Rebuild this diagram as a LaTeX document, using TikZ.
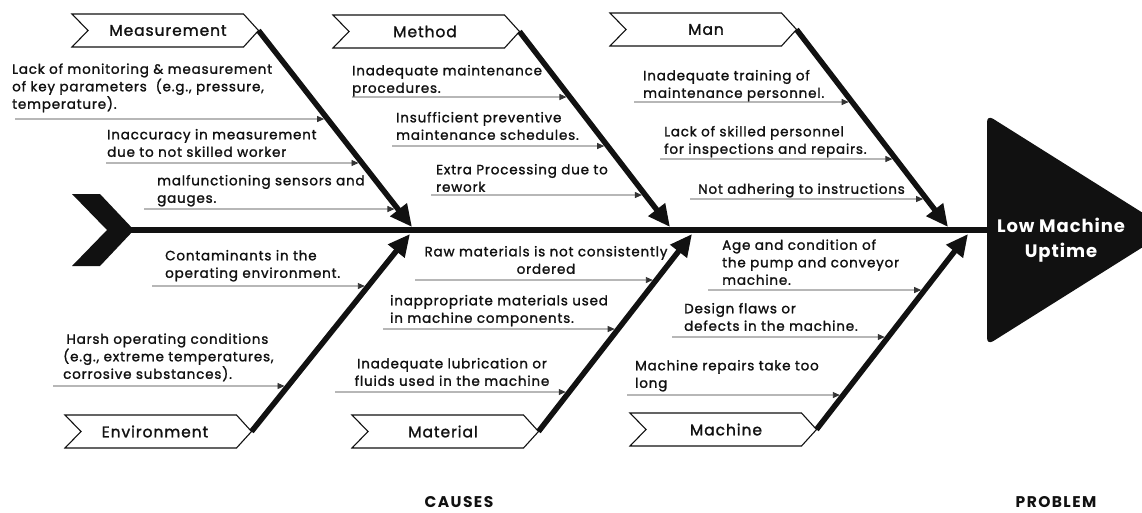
\documentclass[tikz,border=0pt]{standalone}
\usepackage{fontspec}
\setmainfont{Poppins}
\newfontfamily\medfont{Poppins}[LetterSpace=6, FakeBold=1.4]
\newfontfamily\bldfont{Poppins Bold}[LetterSpace=5]
\newfontfamily\ftfont{Poppins Bold}[LetterSpace=9]
\usetikzlibrary{arrows.meta,calc}
\definecolor{ink}{HTML}{111111}
\definecolor{lnc}{HTML}{333333}
\newcommand\ctfont{\medfont\fontsize{13.5}{17.5}\selectfont}
\newcommand\bnfont{\medfont\fontsize{15.5}{18}\selectfont}
\tikzset{
 banner/.style={draw=ink, line width=1.1pt, fill=white, line join=miter},
 bone/.style={draw=ink, line width=5.5pt, -{Triangle[length=22pt,width=20pt]}},
 cause/.style={draw=lnc, line width=0.9pt, -{Triangle[length=7pt,width=6pt]}, shorten >=3.5pt},
 ctl/.style={anchor=south west, inner sep=0pt, align=left, font=\ctfont, text=ink},
 ctc/.style={anchor=south, inner sep=0pt, align=center, font=\ctfont, text=ink},
 blabel/.style={inner sep=0pt, font=\bnfont, text=ink},
 foot/.style={inner sep=0pt, font=\ftfont\fontsize{15.5}{16}\selectfont, text=ink},
}
\newcommand\fbanner[5]{%
 \draw[banner] (#2,#3) -- ++(171.5,0) -- ++(15,16.5) -- ++(-15,16.5) -- ++(-171.5,0) -- ++(16,-16.5) -- cycle;
 \node[blabel] (#1L) at (#4,#3+16.5) {#5};
}
\newcommand\causearrow[4]{%
 \coordinate (#1) at (#2,#3);
 \coordinate (#1h) at (#2+50,#3);
 \draw[cause] (#1) -- (intersection of #1--#1h and #4T--#4E);
}
\begin{document}
\begin{tikzpicture}[x=1pt,y=-1pt]
\fill[white] (0,0) rectangle (1142,512);
\useasboundingbox (0,0) rectangle (1142,512);

% bone coordinates
\coordinate (measT) at (258.5,30.5);  \coordinate (measE) at (412,227);
\coordinate (methT) at (519.5,31.5);  \coordinate (methE) at (670,227);
\coordinate (manT)  at (796.5,29.5);  \coordinate (manE)  at (948,227);
\coordinate (envT)  at (251.5,431.5); \coordinate (envE)  at (410,234);
\coordinate (matT)  at (538.5,431.5); \coordinate (matE)  at (692,234);
\coordinate (macT)  at (816.5,429.5); \coordinate (macE)  at (968,234);

% cause arrows
\causearrow{c1}{15}{119}{meas}
\causearrow{c2}{106}{163}{meas}
\causearrow{c3}{144}{209}{meas}
\causearrow{c4}{352}{97}{meth}
\causearrow{c5}{392}{146}{meth}
\causearrow{c6}{431}{195}{meth}
\causearrow{c7}{634}{102}{man}
\causearrow{c8}{660}{159}{man}
\causearrow{c9}{690}{199}{man}
\causearrow{c10}{152}{286}{env}
\causearrow{c11}{53}{386}{env}
\causearrow{c12}{415}{280}{mat}
\causearrow{c13}{383}{329}{mat}
\causearrow{c14}{335}{392}{mat}
\causearrow{c15}{708}{290}{mac}
\causearrow{c16}{672}{337}{mac}
\causearrow{c17}{627}{395}{mac}

% bones
\draw[bone] (measT) -- (measE);
\draw[bone] (methT) -- (methE);
\draw[bone] (manT) -- (manE);
\draw[bone] (envT) -- (envE);
\draw[bone] (matT) -- (matE);
\draw[bone] (macT) -- (macE);

% spine, tail, head
\coordinate (spS) at (125,230);
\coordinate (spE) at (995,230);
\draw[ink, line width=6pt] (spS) -- (spE);
\fill[ink] (72,194) -- (100,194) -- (134,230) -- (100,266) -- (72,266) -- (107,230) -- cycle;
\fill[ink, rounded corners=7pt] (987,115) -- (1170,230) -- (987,345) -- cycle;
\node[anchor=south, align=center, inner sep=0pt, text=white,
      font=\bldfont\fontsize{18}{25}\selectfont] (prob) at (1061,265.5) {Low Machine\\Uptime\strut};

% banners
\fbanner{meas}{72}{14}{168}{Measurement}
\fbanner{meth}{333}{15}{425}{Method}
\fbanner{man}{610}{13}{706}{Man}
\fbanner{env}{65}{415}{155}{Environment}
\fbanner{mat}{352}{415}{443}{Material}
\fbanner{mac}{630}{413}{726}{Machine}

% cause texts
\node[ctl] (t1) at (12,114.25) {Lack of monitoring \& measurement\\of key parameters~ (e.g., pressure,\\temperature).\strut};
\node[ctl] (t2) at (107,162.25) {Inaccuracy in measurement\\due to not skilled worker\strut};
\node[ctl] (t3) at (157,208.25) {malfunctioning sensors and\\gauges.\strut};
\node[ctl] (t4) at (352,98.25) {Inadequate maintenance\\procedures.\strut};
\node[ctl] (t5) at (396,145.25) {Insufficient preventive\\maintenance schedules.\strut};
\node[ctl] (t6) at (436,197.25) {Extra Processing due to\\rework\strut};
\node[ctl] (t7) at (643,103.25) {Inadequate training of\\maintenance personnel.\strut};
\node[ctl] (t8) at (664,159.25) {Lack of skilled personnel\\for inspections and repairs.\strut};
\node[ctl] (t9) at (698,199.25) {Not adhering to instructions\strut};
\node[ctl] (t10) at (165,283.25) {Contaminants in the\\operating environment.\strut};
\node[ctl] (t11) at (63,384.25) {\hphantom{i}Harsh operating conditions\\(e.g., extreme temperatures,\\corrosive substances).\strut};
\node[ctc] (t12) at (546,279.25) {Raw materials is not consistently\\ordered\strut};
\node[ctl] (t13) at (390,328.25) {inappropriate materials used\\in machine components.\strut};
\node[ctc] (t14) at (452,391.25) {Inadequate lubrication or\\fluids used in the machine\strut};
\node[ctl] (t15) at (722,290.25) {Age and condition of\\the pump and conveyor\\machine.\strut};
\node[ctl] (t16) at (684,336.25) {Design flaws or\\defects in the machine.\strut};
\node[ctl] (t17) at (635,393.25) {Machine repairs take too\\long\strut};

% footer
\node[foot] (causes) at (459,502) {CAUSES};
\node[foot] (problem) at (1056,502) {PROBLEM};
\end{tikzpicture}
\end{document}
